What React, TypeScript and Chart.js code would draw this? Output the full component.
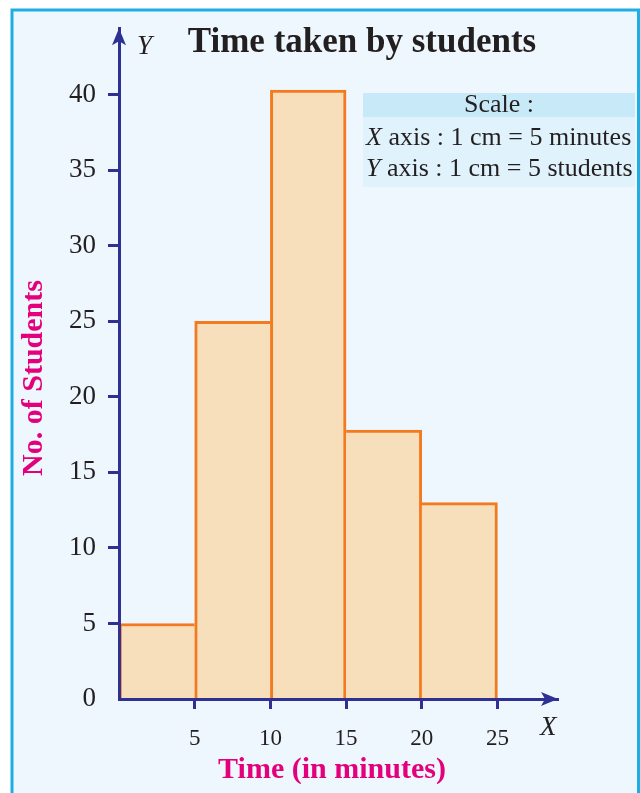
import React, { useEffect, useRef } from "react";
import { Chart, registerables } from "chart.js";

Chart.register(...registerables);

// ---- data ----
const binStarts = [0, 5, 10, 15, 20];
const binEnds = [5, 10, 15, 20, 25];
const counts = [5, 25, 40.3, 17.8, 13];
const xTickValues = [5, 10, 15, 20, 25];
const yTickValues = [0, 5, 10, 15, 20, 25, 30, 35, 40];
const titleText = "Time taken by students";
const xTitle = "Time (in minutes)";
const yTitle = "No. of Students";
const scaleHeader = "Scale :";
const scaleLines = [
  { axis: "X", text: " axis : 1 cm = 5 minutes" },
  { axis: "Y", text: " axis : 1 cm = 5 students" },
];

const BLUE = "#2e3192";
const ORANGE = "#f47a20";
const FILL = "#f8dfbb";
const MAGENTA = "#e4007c";
const INK = "#231f20";
const SERIF = "'Liberation Serif', 'DejaVu Serif', serif";
const BW = 3;

const decorPlugin = {
  id: "decor",
  beforeDraw(chart: any) {
    const ctx = chart.ctx as CanvasRenderingContext2D;
    const W = chart.width;
    const H = chart.height;
    ctx.save();
    ctx.fillStyle = "#ffffff";
    ctx.fillRect(0, 0, W, H);
    // panel
    ctx.fillStyle = "#edf7fd";
    ctx.fillRect(12, 10, 626.5, H);
    ctx.strokeStyle = "#1eaee6";
    ctx.lineWidth = 3;
    ctx.beginPath();
    ctx.moveTo(12, H + 5);
    ctx.lineTo(12, 10);
    ctx.lineTo(638.5, 10);
    ctx.lineTo(638.5, H + 5);
    ctx.stroke();
    // scale box
    ctx.fillStyle = "#c8e9f8";
    ctx.fillRect(363, 93, 272, 24);
    ctx.fillStyle = "#e0f2fb";
    ctx.fillRect(363, 117, 272, 70);
    ctx.restore();
  },
  afterDraw(chart: any) {
    const ctx = chart.ctx as CanvasRenderingContext2D;
    const area = chart.chartArea;
    ctx.save();
    // arrows
    ctx.fillStyle = BLUE;
    const lx = area.left;
    ctx.beginPath();
    ctx.moveTo(lx, area.top);
    ctx.lineTo(lx - 7, area.top + 17);
    ctx.lineTo(lx, area.top + 13);
    ctx.lineTo(lx + 7, area.top + 17);
    ctx.closePath();
    ctx.fill();
    const by = area.bottom;
    ctx.beginPath();
    ctx.moveTo(area.right, by);
    ctx.lineTo(area.right - 17, by - 7);
    ctx.lineTo(area.right - 13, by);
    ctx.lineTo(area.right - 17, by + 7);
    ctx.closePath();
    ctx.fill();

    // title
    ctx.fillStyle = INK;
    ctx.textBaseline = "alphabetic";
    ctx.textAlign = "center";
    ctx.font = `bold 35px ${SERIF}`;
    ctx.fillText(titleText, 362, 52);

    // axis letters
    ctx.font = `italic 27px ${SERIF}`;
    ctx.textAlign = "left";
    ctx.fillText("Y", 137, 54);
    ctx.fillText("X", 540, 735);

    // scale box text
    ctx.font = `26px ${SERIF}`;
    ctx.textAlign = "center";
    ctx.fillText(scaleHeader, 499, 112);
    ctx.textAlign = "left";
    scaleLines.forEach((ln, i) => {
      const y = 145 + i * 31;
      ctx.font = `italic 26px ${SERIF}`;
      ctx.fillText(ln.axis, 366, y);
      const w = ctx.measureText(ln.axis).width;
      ctx.font = `26px ${SERIF}`;
      ctx.fillText(ln.text, 366 + w, y);
    });

    // axis titles
    ctx.fillStyle = MAGENTA;
    ctx.font = `bold 30px ${SERIF}`;
    ctx.textAlign = "center";
    ctx.fillText(xTitle, 332, 778);
    ctx.save();
    ctx.translate(42, 378);
    ctx.rotate(-Math.PI / 2);
    ctx.fillText(yTitle, 0, 0);
    ctx.restore();

    ctx.restore();
  },
};

export default function App() {
  const ref = useRef<HTMLCanvasElement | null>(null);
  useEffect(() => {
    if (!ref.current) return;
    const chart = new Chart(ref.current, {
      type: "bar",
      data: {
        datasets: [
          {
            label: "Students",
            data: binStarts.map((s, i) => ({ x: (s + binEnds[i]) / 2, y: counts[i] })),
            backgroundColor: FILL,
            borderColor: ORANGE,
            borderSkipped: "start",
            borderWidth: (c: any) => {
              const i = c.dataIndex;
              const prev = i > 0 ? counts[i - 1] : -1;
              const next = i < counts.length - 1 ? counts[i + 1] : -1;
              return {
                top: BW,
                bottom: 0,
                left: prev > counts[i] ? 0 : BW,
                right: next > counts[i] ? 0 : BW,
              };
            },
            barPercentage: 1,
            categoryPercentage: 1,
          } as any,
        ],
      },
      options: {
        responsive: false,
        animation: false,
        events: [],
        layout: { padding: { left: 0, right: 82, top: 28, bottom: 0 } },
        plugins: {
          legend: { display: false },
          tooltip: { enabled: false },
          title: { display: false },
        },
        scales: {
          x: {
            type: "linear",
            offset: false,
            min: 0,
            max: 29,
            afterBuildTicks: (s: any) => {
              s.ticks = xTickValues.map((v) => ({ value: v }));
            },
            afterFit: (s: any) => {
              s.height = 94;
            },
            grid: {
              offset: false,
              drawOnChartArea: false,
              drawTicks: true,
              tickLength: 10,
              tickWidth: 3,
              tickColor: BLUE,
            },
            border: { display: true, color: BLUE, width: 3, z: 1 },
            ticks: {
              color: INK,
              font: { family: SERIF, size: 23 },
              padding: 16,
              maxRotation: 0,
              autoSkip: false,
            },
          },
          y: {
            type: "linear",
            min: 0,
            max: 44.4,
            afterBuildTicks: (s: any) => {
              s.ticks = yTickValues.map((v) => ({ value: v }));
            },
            afterFit: (s: any) => {
              s.width = 119;
            },
            grid: {
              drawOnChartArea: false,
              drawTicks: true,
              tickLength: 11,
              tickWidth: 3,
              tickColor: (c: any) => (c.tick && c.tick.value === 0 ? "rgba(0,0,0,0)" : BLUE),
            },
            border: { display: true, color: BLUE, width: 3, z: 1 },
            ticks: {
              color: INK,
              font: { family: SERIF, size: 27 },
              padding: 12,
              autoSkip: false,
            },
          },
        },
      } as any,
      plugins: [decorPlugin],
    });
    return () => chart.destroy();
  }, []);
  return (
    <div style={{ position: "absolute", left: 0, top: 0, width: 640, height: 793 }}>
      <canvas ref={ref} width={640} height={793} style={{ width: 640, height: 793, display: "block" }} />
    </div>
  );
}
